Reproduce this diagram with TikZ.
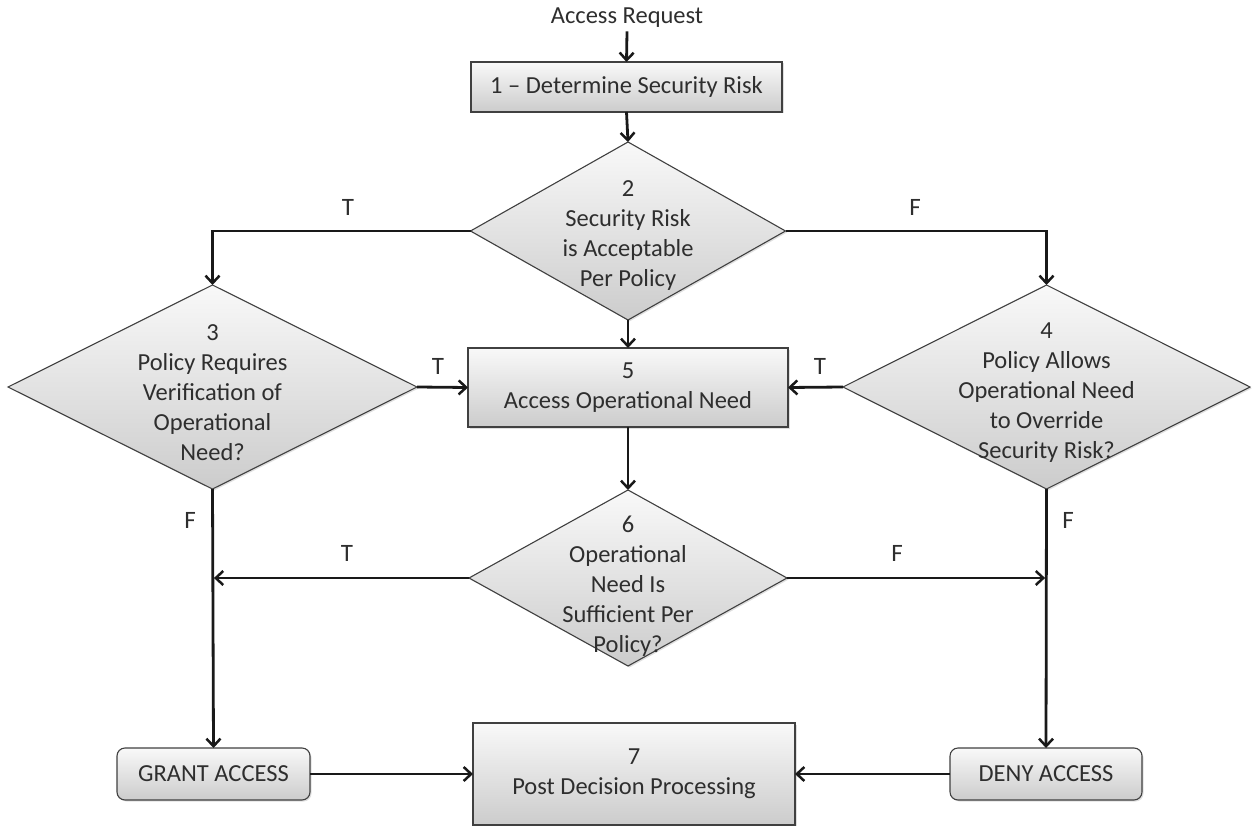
\documentclass[tikz,border=0pt]{standalone}
\usepackage{fontspec}
\setmainfont{Carlito}
\usetikzlibrary{shapes.geometric,arrows.meta,shadows}

\begin{document}
\begin{tikzpicture}[x=1pt,y=-1pt,
  every node/.style={font=\fontsize{24.5}{30}\selectfont, text=black!82},
  flow/.style={draw=black!90, line width=2.8pt,
    -{Straight Barb[length=7.5pt,width=14pt,line width=2.5pt]}},
  fillst/.style={draw=black!75, line width=1.1pt, top color=gray!5,
    bottom color=gray!40,
    drop shadow={opacity=0.25, shadow xshift=1.5pt, shadow yshift=-1.5pt}},
  boxst/.style={fillst, rectangle, align=center, inner sep=0pt, outer sep=0pt},
  endst/.style={boxst, rounded corners=8pt},
  decst/.style={fillst, diamond, inner sep=0pt, outer sep=0pt},
  dectext/.style={align=center, inner sep=0pt},
  lbl/.style={font=\fontsize{25}{28}\selectfont, inner sep=0pt}
]
\useasboundingbox (0,0) rectangle (1252,826);

% process boxes
\node (req) at (627,18) {Access Request};
\node[boxst, minimum width=311pt, minimum height=50pt] (b1) at (626.5,87)
  {1 – Determine Security Risk};
\node[boxst, minimum width=320pt, minimum height=79pt] (b5) at (628,387.5)
  {5\\Access Operational Need};
\node[boxst, minimum width=322pt, minimum height=102pt] (b7) at (634,774)
  {7\\Post Decision Processing};
\node[endst, minimum width=193pt, minimum height=52pt] (grant) at (213.5,774)
  {GRANT ACCESS};
\node[endst, minimum width=192pt, minimum height=52pt] (deny) at (1046,774)
  {DENY ACCESS};

% decisions
\node[decst, minimum width=315pt, minimum height=178pt] (d2) at (628,231) {};
\node[decst, minimum width=409pt, minimum height=204pt] (d3) at (212.5,387) {};
\node[decst, minimum width=407pt, minimum height=204pt] (d4) at (1046.5,387) {};
\node[decst, minimum width=318pt, minimum height=176pt] (d6) at (628,578) {};

\node[dectext] (t2) at (628,236) {2\\Security Risk\\is Acceptable\\Per Policy};
\node[dectext] (t3) at (212.5,393) {3\\Policy Requires\\Verification of\\Operational\\Need?};
\node[dectext] (t4) at (1046.5,393) {4\\Policy Allows\\Operational Need\\to Override\\Security Risk?};
\node[dectext] (t6) at (628,586) {6\\Operational\\Need Is\\Sufficient Per\\Policy?};

% connectors
\draw[flow] (req.south) -- (b1.north);
\draw[flow] (b1.south) -- (d2.north);
\draw[flow] (d2.west) -| (d3.north);
\draw[flow] (d2.east) -| (d4.north);
\draw[flow] (d2.south) -- (b5.north);
\draw[flow] (d3.east) -- (b5.west);
\draw[flow] (d4.west) -- (b5.east);
\draw[flow] (b5.south) -- (d6.north);
\draw[flow] (d6.west) -- ([xshift=1.4pt]d3.south |- d6.west);
\draw[flow] (d6.east) -- ([xshift=-1.4pt]d4.south |- d6.east);
\draw[flow] (d3.south) -- (grant.north);
\draw[flow] (d4.south) -- (deny.north);
\draw[flow] (grant.east) -- (b7.west);
\draw[flow] (deny.west) -- (b7.east);

% branch labels
\node[lbl] (l2t) at (348,207) {T};
\node[lbl] (l2f) at (915,207) {F};
\node[lbl] (l3t) at (438,366) {T};
\node[lbl] (l4t) at (820,366) {T};
\node[lbl] (l3f) at (190,520) {F};
\node[lbl] (l4f) at (1068,520) {F};
\node[lbl] (l6t) at (347,553) {T};
\node[lbl] (l6f) at (897,553) {F};
\end{tikzpicture}
\end{document}
